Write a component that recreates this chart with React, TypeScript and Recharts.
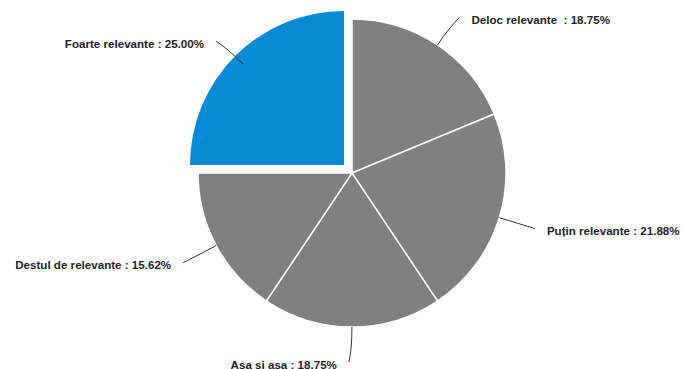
import React from 'react';
import { PieChart, Pie, Cell } from 'recharts';

const categories = ['Deloc relevante ', 'Puțin relevante', 'Așa si așa', 'Destul de relevante', 'Foarte relevante'];
const shares = [18.75, 21.88, 18.75, 15.62, 25.0];
const highlighted = 'Foarte relevante';

const data = categories.map((name, i) => ({ name, value: shares[i] }));

const GRAY = '#808080';
const BLUE = '#078bd4';
const RAD = Math.PI / 180;

const renderLabel = (props: any) => {
  const { cx, cy, midAngle, outerRadius, name, value } = props;
  const cos = Math.cos(-midAngle * RAD);
  const sin = Math.sin(-midAngle * RAD);
  const side = cos > 0.01 ? 1 : -1;
  const sx = cx + outerRadius * cos;
  const sy = cy + outerRadius * sin;
  const mx = cx + (outerRadius + 22) * cos;
  const my = cy + (outerRadius + 22) * sin;
  const ex = cx + (outerRadius + 34) * cos + side * 3;
  const ey = cy + (outerRadius + 34) * sin + 1;
  return (
    <g>
      <path d={`M${sx},${sy}Q${mx},${my} ${ex},${ey}`} stroke="#333" strokeWidth={1} fill="none" />
      <text
        x={ex + side * 12}
        y={ey + 2}
        textAnchor={side > 0 ? 'start' : 'end'}
        dominantBaseline="central"
        fill="#1e1e28"
        fontSize={11.6}
        fontWeight="bold"
        fontFamily="'Liberation Sans', Arial, sans-serif"
        style={{ whiteSpace: 'pre' }}
      >
        {`${name} : ${value.toFixed(2)}%`}
      </text>
    </g>
  );
};

export default function App() {
  return (
    <div style={{ position: 'absolute', left: 0, top: 0, background: '#fff' }}>
      <PieChart width={683} height={369} margin={{ top: 0, right: 0, bottom: 0, left: 0 }}>
        {/* exploded slice, drawn first so the label lines sit on top */}
        <Pie
          data={data}
          dataKey="value"
          nameKey="name"
          cx={344}
          cy={165}
          outerRadius={154}
          startAngle={90}
          endAngle={-270}
          isAnimationActive={false}
          labelLine={false}
        >
          {data.map((d) => (
            <Cell key={d.name} fill={d.name === highlighted ? BLUE : 'none'} stroke="none" />
          ))}
        </Pie>
        <Pie
          data={data}
          dataKey="value"
          nameKey="name"
          cx={352}
          cy={173}
          outerRadius={154}
          startAngle={90}
          endAngle={-270}
          isAnimationActive={false}
          labelLine={false}
          label={renderLabel}
        >
          {data.map((d) => (
            <Cell
              key={d.name}
              fill={d.name === highlighted ? 'none' : GRAY}
              stroke={d.name === highlighted ? 'none' : '#fff'}
              strokeWidth={1.5}
            />
          ))}
        </Pie>
      </PieChart>
    </div>
  );
}
